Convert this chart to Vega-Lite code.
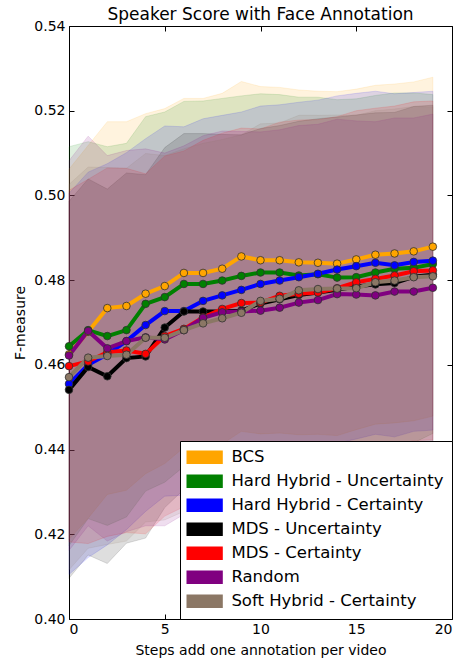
{
  "$schema": "https://vega.github.io/schema/vega-lite/v6.json",
  "autosize": {"type": "none"},
  "width": 383,
  "height": 593,
  "padding": {"left": 69, "top": 26, "right": 14, "bottom": 44},
  "background": "white",
  "title": {"text": "Speaker Score with Face Annotation", "fontSize": 17, "font": "DejaVu Sans", "fontWeight": "normal", "color": "black", "offset": -5},
  "config": {
    "view": {"stroke": "black", "strokeWidth": 1},
    "axis": {"labelFont": "DejaVu Sans", "labelFontSize": 14, "labelColor": "black", "titleFont": "DejaVu Sans", "titleFontSize": 14, "titleFontWeight": "normal", "titleColor": "black", "grid": false, "domain": false, "tickColor": "black", "tickSize": -5, "labelPadding": 8},
    "legend": {"orient": "bottom-right", "offset": 0, "strokeColor": "black", "fillColor": "white", "padding": 8, "cornerRadius": 0, "labelFont": "DejaVu Sans", "labelFontSize": 16.5, "labelColor": "black", "symbolType": "M-2.9,-1H2.9V1H-2.9Z", "symbolSize": 144, "symbolOffset": 8.4, "labelOffset": 18.5, "rowPadding": 5, "labelLimit": 400}
  },
  "data": {"values": [
    {"s": "BCS", "k": 0, "m": 0.4625, "lo": 0.4188, "hi": 0.5062},
    {"s": "BCS", "k": 1, "m": 0.4678, "lo": 0.4238, "hi": 0.5118},
    {"s": "BCS", "k": 2, "m": 0.4734, "lo": 0.4294, "hi": 0.5174},
    {"s": "BCS", "k": 3, "m": 0.4739, "lo": 0.4304, "hi": 0.5174},
    {"s": "BCS", "k": 4, "m": 0.4768, "lo": 0.4343, "hi": 0.5193},
    {"s": "BCS", "k": 5, "m": 0.4786, "lo": 0.4367, "hi": 0.5205},
    {"s": "BCS", "k": 6, "m": 0.4817, "lo": 0.4405, "hi": 0.5229},
    {"s": "BCS", "k": 7, "m": 0.4817, "lo": 0.4405, "hi": 0.5229},
    {"s": "BCS", "k": 8, "m": 0.4827, "lo": 0.4413, "hi": 0.5241},
    {"s": "BCS", "k": 9, "m": 0.4856, "lo": 0.4443, "hi": 0.5269},
    {"s": "BCS", "k": 10, "m": 0.4847, "lo": 0.4437, "hi": 0.5257},
    {"s": "BCS", "k": 11, "m": 0.4847, "lo": 0.4439, "hi": 0.5255},
    {"s": "BCS", "k": 12, "m": 0.4842, "lo": 0.4435, "hi": 0.5249},
    {"s": "BCS", "k": 13, "m": 0.4841, "lo": 0.4436, "hi": 0.5246},
    {"s": "BCS", "k": 14, "m": 0.4839, "lo": 0.4433, "hi": 0.5245},
    {"s": "BCS", "k": 15, "m": 0.4849, "lo": 0.4447, "hi": 0.5251},
    {"s": "BCS", "k": 16, "m": 0.4860, "lo": 0.4460, "hi": 0.5260},
    {"s": "BCS", "k": 17, "m": 0.4863, "lo": 0.4463, "hi": 0.5263},
    {"s": "BCS", "k": 18, "m": 0.4868, "lo": 0.4468, "hi": 0.5268},
    {"s": "BCS", "k": 19, "m": 0.4879, "lo": 0.4479, "hi": 0.5279},

    {"s": "Hard Hybrid - Uncertainty", "k": 0, "m": 0.4644, "lo": 0.4173, "hi": 0.5115},
    {"s": "Hard Hybrid - Uncertainty", "k": 1, "m": 0.4682, "lo": 0.4237, "hi": 0.5127},
    {"s": "Hard Hybrid - Uncertainty", "k": 2, "m": 0.4668, "lo": 0.4221, "hi": 0.5115},
    {"s": "Hard Hybrid - Uncertainty", "k": 3, "m": 0.4682, "lo": 0.4241, "hi": 0.5123},
    {"s": "Hard Hybrid - Uncertainty", "k": 4, "m": 0.4744, "lo": 0.4302, "hi": 0.5186},
    {"s": "Hard Hybrid - Uncertainty", "k": 5, "m": 0.4760, "lo": 0.4323, "hi": 0.5197},
    {"s": "Hard Hybrid - Uncertainty", "k": 6, "m": 0.4791, "lo": 0.4360, "hi": 0.5222},
    {"s": "Hard Hybrid - Uncertainty", "k": 7, "m": 0.4791, "lo": 0.4359, "hi": 0.5223},
    {"s": "Hard Hybrid - Uncertainty", "k": 8, "m": 0.4799, "lo": 0.4369, "hi": 0.5229},
    {"s": "Hard Hybrid - Uncertainty", "k": 9, "m": 0.4810, "lo": 0.4385, "hi": 0.5235},
    {"s": "Hard Hybrid - Uncertainty", "k": 10, "m": 0.4818, "lo": 0.4396, "hi": 0.5240},
    {"s": "Hard Hybrid - Uncertainty", "k": 11, "m": 0.4818, "lo": 0.4398, "hi": 0.5238},
    {"s": "Hard Hybrid - Uncertainty", "k": 12, "m": 0.4811, "lo": 0.4390, "hi": 0.5232},
    {"s": "Hard Hybrid - Uncertainty", "k": 13, "m": 0.4814, "lo": 0.4396, "hi": 0.5232},
    {"s": "Hard Hybrid - Uncertainty", "k": 14, "m": 0.4806, "lo": 0.4386, "hi": 0.5226},
    {"s": "Hard Hybrid - Uncertainty", "k": 15, "m": 0.4807, "lo": 0.4386, "hi": 0.5228},
    {"s": "Hard Hybrid - Uncertainty", "k": 16, "m": 0.4818, "lo": 0.4400, "hi": 0.5236},
    {"s": "Hard Hybrid - Uncertainty", "k": 17, "m": 0.4827, "lo": 0.4412, "hi": 0.5242},
    {"s": "Hard Hybrid - Uncertainty", "k": 18, "m": 0.4829, "lo": 0.4416, "hi": 0.5242},
    {"s": "Hard Hybrid - Uncertainty", "k": 19, "m": 0.4838, "lo": 0.4438, "hi": 0.5238},

    {"s": "Hard Hybrid - Certainty", "k": 0, "m": 0.4555, "lo": 0.4105, "hi": 0.5005},
    {"s": "Hard Hybrid - Certainty", "k": 1, "m": 0.4600, "lo": 0.4145, "hi": 0.5055},
    {"s": "Hard Hybrid - Certainty", "k": 2, "m": 0.4625, "lo": 0.4175, "hi": 0.5075},
    {"s": "Hard Hybrid - Certainty", "k": 3, "m": 0.4656, "lo": 0.4211, "hi": 0.5101},
    {"s": "Hard Hybrid - Certainty", "k": 4, "m": 0.4694, "lo": 0.4254, "hi": 0.5134},
    {"s": "Hard Hybrid - Certainty", "k": 5, "m": 0.4727, "lo": 0.4290, "hi": 0.5164},
    {"s": "Hard Hybrid - Certainty", "k": 6, "m": 0.4727, "lo": 0.4292, "hi": 0.5162},
    {"s": "Hard Hybrid - Certainty", "k": 7, "m": 0.4751, "lo": 0.4321, "hi": 0.5181},
    {"s": "Hard Hybrid - Certainty", "k": 8, "m": 0.4764, "lo": 0.4339, "hi": 0.5189},
    {"s": "Hard Hybrid - Certainty", "k": 9, "m": 0.4777, "lo": 0.4357, "hi": 0.5197},
    {"s": "Hard Hybrid - Certainty", "k": 10, "m": 0.4791, "lo": 0.4371, "hi": 0.5211},
    {"s": "Hard Hybrid - Certainty", "k": 11, "m": 0.4799, "lo": 0.4384, "hi": 0.5214},
    {"s": "Hard Hybrid - Certainty", "k": 12, "m": 0.4807, "lo": 0.4394, "hi": 0.5220},
    {"s": "Hard Hybrid - Certainty", "k": 13, "m": 0.4815, "lo": 0.4405, "hi": 0.5225},
    {"s": "Hard Hybrid - Certainty", "k": 14, "m": 0.4825, "lo": 0.4415, "hi": 0.5235},
    {"s": "Hard Hybrid - Certainty", "k": 15, "m": 0.4833, "lo": 0.4425, "hi": 0.5241},
    {"s": "Hard Hybrid - Certainty", "k": 16, "m": 0.4841, "lo": 0.4436, "hi": 0.5246},
    {"s": "Hard Hybrid - Certainty", "k": 17, "m": 0.4835, "lo": 0.4430, "hi": 0.5240},
    {"s": "Hard Hybrid - Certainty", "k": 18, "m": 0.4843, "lo": 0.4443, "hi": 0.5243},
    {"s": "Hard Hybrid - Certainty", "k": 19, "m": 0.4846, "lo": 0.4446, "hi": 0.5246},

    {"s": "MDS - Uncertainty", "k": 0, "m": 0.4541, "lo": 0.4096, "hi": 0.4986},
    {"s": "MDS - Uncertainty", "k": 1, "m": 0.4595, "lo": 0.4151, "hi": 0.5039},
    {"s": "MDS - Uncertainty", "k": 2, "m": 0.4573, "lo": 0.4131, "hi": 0.5015},
    {"s": "MDS - Uncertainty", "k": 3, "m": 0.4616, "lo": 0.4179, "hi": 0.5053},
    {"s": "MDS - Uncertainty", "k": 4, "m": 0.4620, "lo": 0.4191, "hi": 0.5049},
    {"s": "MDS - Uncertainty", "k": 5, "m": 0.4688, "lo": 0.4263, "hi": 0.5113},
    {"s": "MDS - Uncertainty", "k": 6, "m": 0.4726, "lo": 0.4306, "hi": 0.5146},
    {"s": "MDS - Uncertainty", "k": 7, "m": 0.4726, "lo": 0.4306, "hi": 0.5146},
    {"s": "MDS - Uncertainty", "k": 8, "m": 0.4726, "lo": 0.4308, "hi": 0.5144},
    {"s": "MDS - Uncertainty", "k": 9, "m": 0.4728, "lo": 0.4313, "hi": 0.5143},
    {"s": "MDS - Uncertainty", "k": 10, "m": 0.4745, "lo": 0.4332, "hi": 0.5158},
    {"s": "MDS - Uncertainty", "k": 11, "m": 0.4755, "lo": 0.4345, "hi": 0.5165},
    {"s": "MDS - Uncertainty", "k": 12, "m": 0.4765, "lo": 0.4355, "hi": 0.5175},
    {"s": "MDS - Uncertainty", "k": 13, "m": 0.4771, "lo": 0.4361, "hi": 0.5181},
    {"s": "MDS - Uncertainty", "k": 14, "m": 0.4777, "lo": 0.4369, "hi": 0.5185},
    {"s": "MDS - Uncertainty", "k": 15, "m": 0.4785, "lo": 0.4380, "hi": 0.5190},
    {"s": "MDS - Uncertainty", "k": 16, "m": 0.4790, "lo": 0.4385, "hi": 0.5195},
    {"s": "MDS - Uncertainty", "k": 17, "m": 0.4793, "lo": 0.4390, "hi": 0.5196},
    {"s": "MDS - Uncertainty", "k": 18, "m": 0.4808, "lo": 0.4406, "hi": 0.5210},
    {"s": "MDS - Uncertainty", "k": 19, "m": 0.4813, "lo": 0.4413, "hi": 0.5213},

    {"s": "MDS - Certainty", "k": 0, "m": 0.4597, "lo": 0.4182, "hi": 0.5012},
    {"s": "MDS - Certainty", "k": 1, "m": 0.4608, "lo": 0.4178, "hi": 0.5038},
    {"s": "MDS - Certainty", "k": 2, "m": 0.4630, "lo": 0.4195, "hi": 0.5065},
    {"s": "MDS - Certainty", "k": 3, "m": 0.4634, "lo": 0.4204, "hi": 0.5064},
    {"s": "MDS - Certainty", "k": 4, "m": 0.4626, "lo": 0.4201, "hi": 0.5051},
    {"s": "MDS - Certainty", "k": 5, "m": 0.4668, "lo": 0.4243, "hi": 0.5093},
    {"s": "MDS - Certainty", "k": 6, "m": 0.4685, "lo": 0.4265, "hi": 0.5105},
    {"s": "MDS - Certainty", "k": 7, "m": 0.4712, "lo": 0.4294, "hi": 0.5130},
    {"s": "MDS - Certainty", "k": 8, "m": 0.4732, "lo": 0.4317, "hi": 0.5147},
    {"s": "MDS - Certainty", "k": 9, "m": 0.4746, "lo": 0.4333, "hi": 0.5159},
    {"s": "MDS - Certainty", "k": 10, "m": 0.4747, "lo": 0.4337, "hi": 0.5157},
    {"s": "MDS - Certainty", "k": 11, "m": 0.4763, "lo": 0.4353, "hi": 0.5173},
    {"s": "MDS - Certainty", "k": 12, "m": 0.4768, "lo": 0.4358, "hi": 0.5178},
    {"s": "MDS - Certainty", "k": 13, "m": 0.4771, "lo": 0.4363, "hi": 0.5179},
    {"s": "MDS - Certainty", "k": 14, "m": 0.4781, "lo": 0.4376, "hi": 0.5186},
    {"s": "MDS - Certainty", "k": 15, "m": 0.4795, "lo": 0.4390, "hi": 0.5200},
    {"s": "MDS - Certainty", "k": 16, "m": 0.4803, "lo": 0.4400, "hi": 0.5206},
    {"s": "MDS - Certainty", "k": 17, "m": 0.4811, "lo": 0.4411, "hi": 0.5211},
    {"s": "MDS - Certainty", "k": 18, "m": 0.4821, "lo": 0.4421, "hi": 0.5221},
    {"s": "MDS - Certainty", "k": 19, "m": 0.4823, "lo": 0.4423, "hi": 0.5223},

    {"s": "Random", "k": 0, "m": 0.4622, "lo": 0.4162, "hi": 0.5082},
    {"s": "Random", "k": 1, "m": 0.4680, "lo": 0.4220, "hi": 0.5140},
    {"s": "Random", "k": 2, "m": 0.4639, "lo": 0.4184, "hi": 0.5094},
    {"s": "Random", "k": 3, "m": 0.4656, "lo": 0.4206, "hi": 0.5106},
    {"s": "Random", "k": 4, "m": 0.4665, "lo": 0.4220, "hi": 0.5110},
    {"s": "Random", "k": 5, "m": 0.4660, "lo": 0.4220, "hi": 0.5100},
    {"s": "Random", "k": 6, "m": 0.4682, "lo": 0.4247, "hi": 0.5117},
    {"s": "Random", "k": 7, "m": 0.4711, "lo": 0.4281, "hi": 0.5141},
    {"s": "Random", "k": 8, "m": 0.4724, "lo": 0.4296, "hi": 0.5152},
    {"s": "Random", "k": 9, "m": 0.4726, "lo": 0.4301, "hi": 0.5151},
    {"s": "Random", "k": 10, "m": 0.4728, "lo": 0.4306, "hi": 0.5150},
    {"s": "Random", "k": 11, "m": 0.4735, "lo": 0.4315, "hi": 0.5155},
    {"s": "Random", "k": 12, "m": 0.4747, "lo": 0.4329, "hi": 0.5165},
    {"s": "Random", "k": 13, "m": 0.4753, "lo": 0.4338, "hi": 0.5168},
    {"s": "Random", "k": 14, "m": 0.4767, "lo": 0.4354, "hi": 0.5180},
    {"s": "Random", "k": 15, "m": 0.4766, "lo": 0.4356, "hi": 0.5176},
    {"s": "Random", "k": 16, "m": 0.4764, "lo": 0.4354, "hi": 0.5174},
    {"s": "Random", "k": 17, "m": 0.4773, "lo": 0.4363, "hi": 0.5183},
    {"s": "Random", "k": 18, "m": 0.4773, "lo": 0.4363, "hi": 0.5183},
    {"s": "Random", "k": 19, "m": 0.4782, "lo": 0.4372, "hi": 0.5192},

    {"s": "Soft Hybrid - Certainty", "k": 0, "m": 0.4571, "lo": 0.4116, "hi": 0.5026},
    {"s": "Soft Hybrid - Certainty", "k": 1, "m": 0.4617, "lo": 0.4167, "hi": 0.5067},
    {"s": "Soft Hybrid - Certainty", "k": 2, "m": 0.4621, "lo": 0.4176, "hi": 0.5066},
    {"s": "Soft Hybrid - Certainty", "k": 3, "m": 0.4624, "lo": 0.4184, "hi": 0.5064},
    {"s": "Soft Hybrid - Certainty", "k": 4, "m": 0.4664, "lo": 0.4229, "hi": 0.5099},
    {"s": "Soft Hybrid - Certainty", "k": 5, "m": 0.4664, "lo": 0.4234, "hi": 0.5094},
    {"s": "Soft Hybrid - Certainty", "k": 6, "m": 0.4682, "lo": 0.4254, "hi": 0.5110},
    {"s": "Soft Hybrid - Certainty", "k": 7, "m": 0.4698, "lo": 0.4273, "hi": 0.5123},
    {"s": "Soft Hybrid - Certainty", "k": 8, "m": 0.4710, "lo": 0.4288, "hi": 0.5132},
    {"s": "Soft Hybrid - Certainty", "k": 9, "m": 0.4723, "lo": 0.4303, "hi": 0.5143},
    {"s": "Soft Hybrid - Certainty", "k": 10, "m": 0.4751, "lo": 0.4333, "hi": 0.5169},
    {"s": "Soft Hybrid - Certainty", "k": 11, "m": 0.4756, "lo": 0.4341, "hi": 0.5171},
    {"s": "Soft Hybrid - Certainty", "k": 12, "m": 0.4776, "lo": 0.4363, "hi": 0.5189},
    {"s": "Soft Hybrid - Certainty", "k": 13, "m": 0.4779, "lo": 0.4369, "hi": 0.5189},
    {"s": "Soft Hybrid - Certainty", "k": 14, "m": 0.4780, "lo": 0.4370, "hi": 0.5190},
    {"s": "Soft Hybrid - Certainty", "k": 15, "m": 0.4781, "lo": 0.4373, "hi": 0.5189},
    {"s": "Soft Hybrid - Certainty", "k": 16, "m": 0.4795, "lo": 0.4390, "hi": 0.5200},
    {"s": "Soft Hybrid - Certainty", "k": 17, "m": 0.4799, "lo": 0.4394, "hi": 0.5204},
    {"s": "Soft Hybrid - Certainty", "k": 18, "m": 0.4807, "lo": 0.4404, "hi": 0.5210},
    {"s": "Soft Hybrid - Certainty", "k": 19, "m": 0.4809, "lo": 0.4409, "hi": 0.5209}
  ]},
  "resolve": {"axis": {"x": "independent", "y": "independent"}},
  "layer": [
    {
      "mark": {"type": "area", "fillOpacity": 0.13, "strokeOpacity": 0.12, "strokeWidth": 1},
      "encoding": {
        "x": {"field": "k", "type": "quantitative", "scale": {"domain": [0, 20], "nice": false}, "axis": {"values": [0, 5, 10, 15, 20], "title": "Steps add one annotation per video", "titlePadding": 7}},
        "y": {"field": "lo", "type": "quantitative", "scale": {"domain": [0.4, 0.54], "nice": false, "zero": false}, "axis": {"values": [0.4, 0.42, 0.44, 0.46, 0.48, 0.5, 0.52, 0.54], "format": ".2f", "title": "F-measure", "titlePadding": 6, "labelPadding": 9}},
        "y2": {"field": "hi"},
        "color": {"field": "s", "type": "nominal", "sort": null, "title": null,
          "scale": {"domain": ["BCS", "Hard Hybrid - Uncertainty", "Hard Hybrid - Certainty", "MDS - Uncertainty", "MDS - Certainty", "Random", "Soft Hybrid - Certainty"],
                    "range": ["#FFA500", "#008000", "#0000FF", "#000000", "#FF0000", "#800080", "#8B7765"]},
          "legend": {"encode": {"symbols": {"update": {"fill": {"scale": "color", "field": "value"}, "fillOpacity": {"value": 1}, "stroke": {"value": "transparent"}, "opacity": {"value": 1}}}}}},
        "stroke": {"field": "s", "type": "nominal", "legend": null,
          "scale": {"domain": ["BCS", "Hard Hybrid - Uncertainty", "Hard Hybrid - Certainty", "MDS - Uncertainty", "MDS - Certainty", "Random", "Soft Hybrid - Certainty"],
                    "range": ["#FFA500", "#008000", "#0000FF", "#000000", "#FF0000", "#800080", "#8B7765"]}}
      }
    },
    {
      "mark": {"type": "line", "strokeWidth": 4},
      "encoding": {
        "x": {"field": "k", "type": "quantitative", "axis": null},
        "y": {"field": "m", "type": "quantitative", "axis": null},
        "color": {"field": "s", "type": "nominal", "legend": null}
      }
    },
    {
      "mark": {"type": "circle", "size": 58, "opacity": 1, "stroke": "#303030", "strokeWidth": 0.8},
      "encoding": {
        "x": {"field": "k", "type": "quantitative", "axis": {"orient": "top", "values": [0, 5, 10, 15, 20], "labels": false, "title": null}},
        "y": {"field": "m", "type": "quantitative", "axis": {"orient": "right", "values": [0.4, 0.42, 0.44, 0.46, 0.48, 0.5, 0.52, 0.54], "labels": false, "title": null}},
        "color": {"field": "s", "type": "nominal", "legend": null}
      }
    }
  ]
}
